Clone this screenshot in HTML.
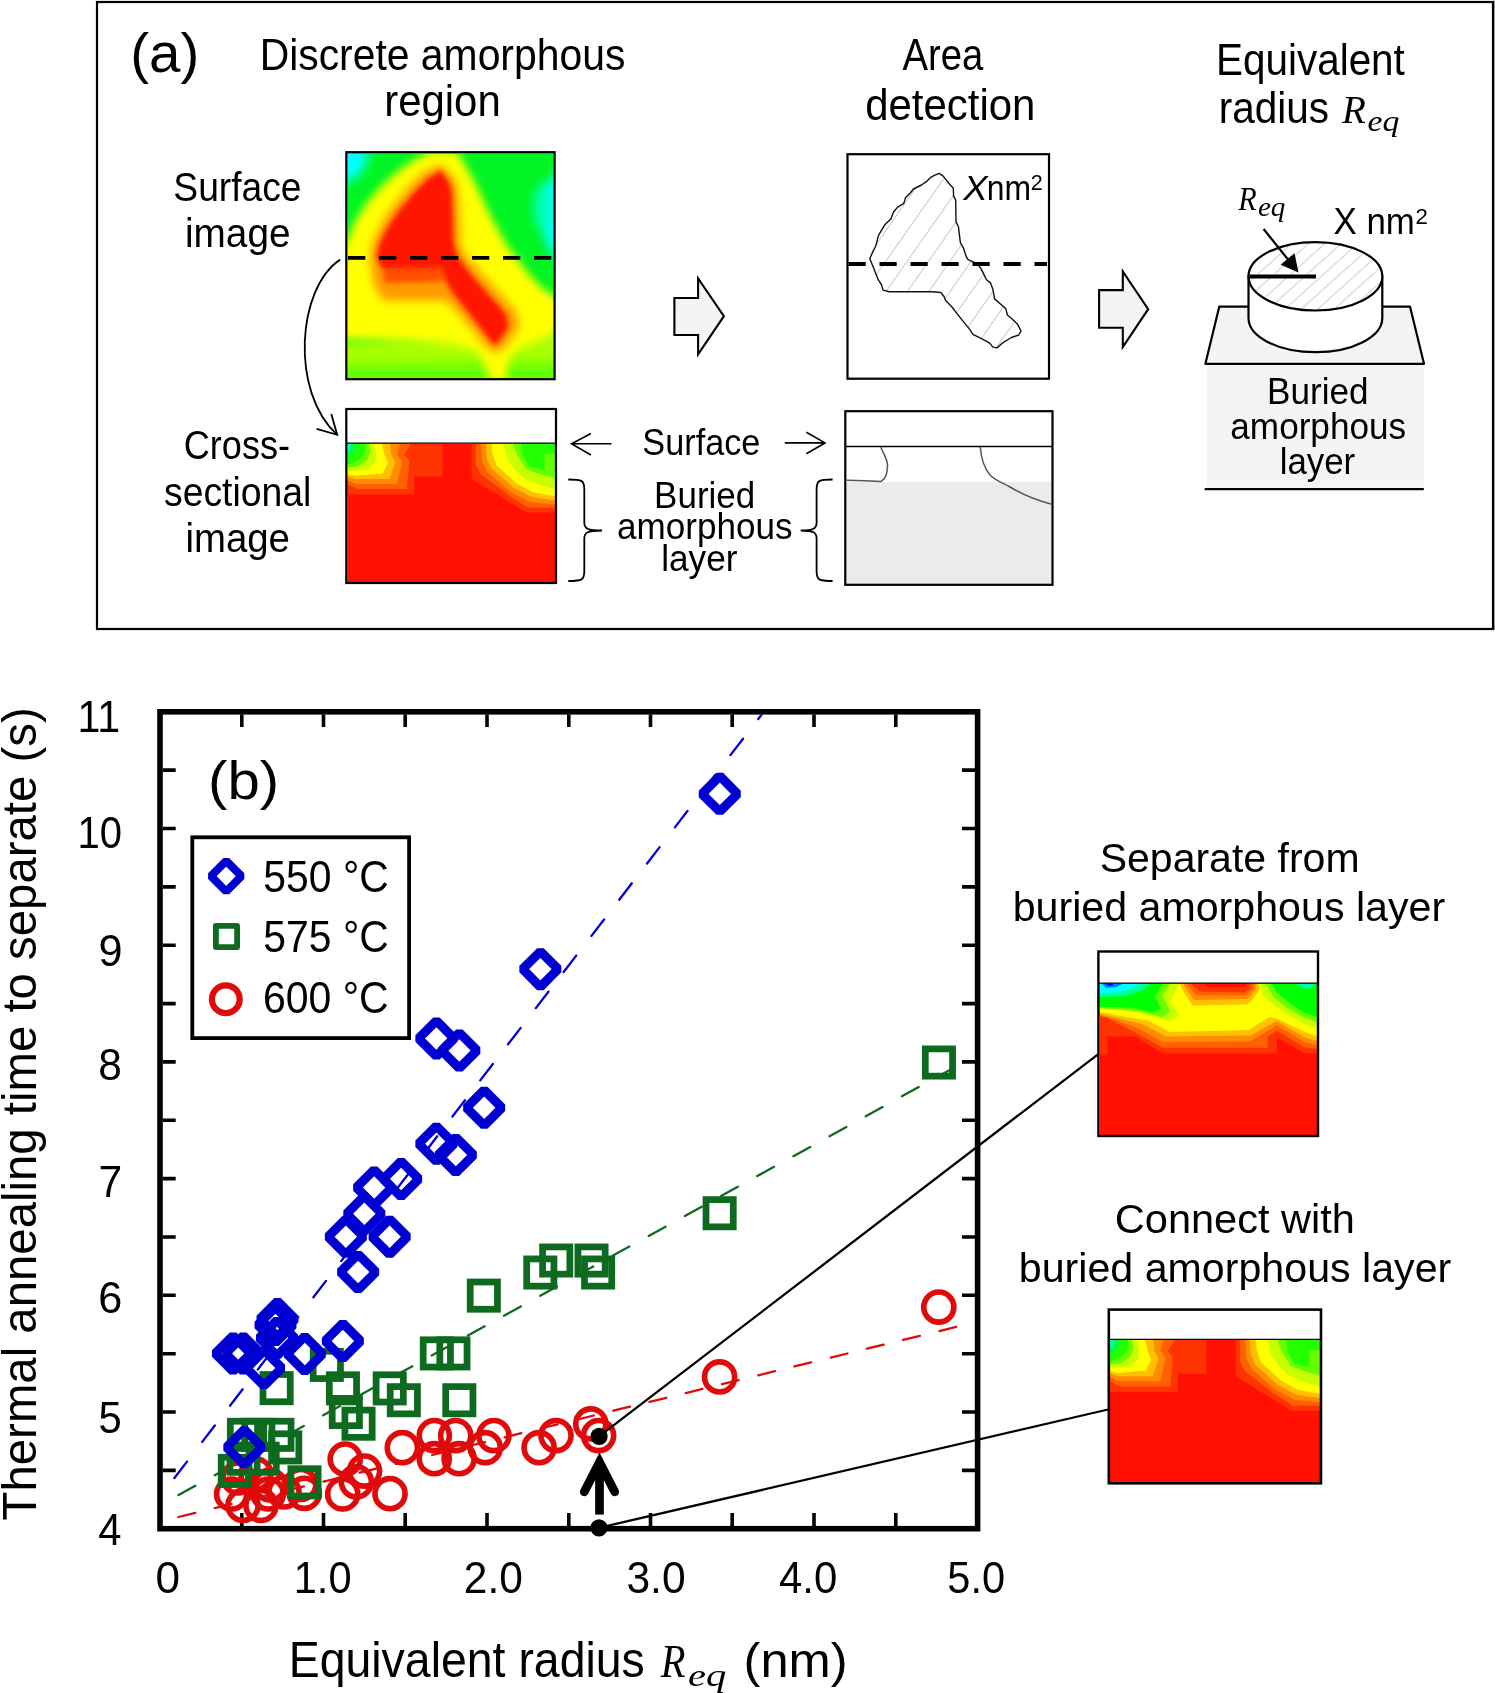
<!DOCTYPE html><html><head><meta charset="utf-8"><style>html,body{margin:0;padding:0;background:#fff;}svg{display:block;} text{-webkit-font-smoothing:antialiased;}</style></head><body>
<svg width="1495" height="1693" viewBox="0 0 1495 1693">
<rect x="0" y="0" width="1495" height="1693" fill="#fff"/>
<rect x="97" y="2" width="1396" height="627" fill="none" stroke="#000" stroke-width="2.2"/>
<line x1="1494.6" y1="0" x2="1494.6" y2="630" stroke="#777" stroke-width="0.8"/>
<defs><clipPath id="clipS"><rect x="347.3" y="153.2" width="206.3" height="224.8"/></clipPath><filter id="blurS" x="-30%" y="-30%" width="160%" height="160%"><feGaussianBlur stdDeviation="5.5"/></filter><filter id="blurS1" x="-30%" y="-30%" width="160%" height="160%"><feGaussianBlur stdDeviation="4"/></filter><filter id="blurS2" x="-30%" y="-30%" width="160%" height="160%"><feGaussianBlur stdDeviation="2.6"/></filter></defs>
<g clip-path="url(#clipS)">
<rect x="340" y="145" width="220" height="240" fill="#00f522"/>
<g filter="url(#blurS)">
<ellipse cx="344.4" cy="149.6" rx="24.1" ry="32.1" fill="#00ffff"/>
<ellipse cx="559.6" cy="215.5" rx="17.7" ry="41.7" fill="#00ffff"/>
<ellipse cx="543.5" cy="207.4" rx="9.6" ry="24.1" fill="#00ffc0"/>
<polygon points="330.0,342.3 570.8,329.4 570.8,396.9 330.0,396.9" fill="#a8ff00" />
<polygon points="330.0,364.8 570.8,361.5 570.8,396.9 330.0,396.9" fill="#60ff00" />
</g>
<g filter="url(#blurS1)">
<polygon points="339.6,244.4 346.1,242.7 354.1,223.5 363.7,207.4 375.0,193.0 387.8,180.1 402.2,168.1 416.7,158.5 429.5,151.2 456.8,151.2 466.5,167.3 474.5,181.7 484.1,202.6 493.8,221.9 506.6,244.4 519.4,262.0 532.3,278.1 543.5,289.3 564.4,302.1 564.4,331.0 538.7,340.7 522.6,347.1 511.4,353.5 508.2,364.8 505.0,384.0 492.1,384.0 484.1,364.8 479.3,351.9 458.4,345.5 426.3,342.3 394.2,340.7 339.6,339.1" fill="#ffff00" />
</g>
<g filter="url(#blurS1)">
<polygon points="440.8,164.1 455.2,178.5 458.4,193.0 460.0,217.1 460.8,242.7 463.2,252.4 477.7,268.4 490.5,282.9 503.4,297.3 516.2,311.8 519.4,326.2 506.6,345.5 497.0,353.5 485.7,347.1 472.9,331.0 458.4,313.4 445.6,300.5 383.0,300.5 373.3,284.5 370.1,255.6 373.3,239.5 381.4,223.5 392.6,205.8 407.1,188.2 423.1,172.1" fill="#ff9a00" />
</g>
<g filter="url(#blurS2)">
<polygon points="440.8,170.5 448.8,181.7 452.0,193.0 452.8,217.1 453.6,242.7 456.8,255.6 471.3,274.9 484.1,289.3 497.0,303.8 506.6,315.0 508.2,327.8 500.2,339.1 495.4,345.5 488.9,339.1 479.3,326.2 466.5,310.2 453.6,294.1 445.6,281.3 442.4,271.6 407.1,271.6 384.6,270.0 379.8,265.2 376.6,255.6 379.8,242.7 387.8,226.7 399.0,210.6 413.5,193.0 427.9,178.5" fill="#ff1400" />
<polygon points="383.0,268.4 442.4,268.4 444.0,281.3 384.6,282.9" fill="#ff5000" />
</g>
</g>
<rect x="346.3" y="152.2" width="208.3" height="227" fill="none" stroke="#000" stroke-width="2.2"/>
<line x1="348" y1="257.8" x2="553" y2="257.8" stroke="#000" stroke-width="3.8" stroke-dasharray="17.3 13.7"/>
<path d="M340.2,259.4 C297,288 290,392 337.2,434.8" fill="none" stroke="#000" stroke-width="1.8"/>
<polyline points="331.3,414.1 337.2,434.8 316.6,428.9" fill="none" stroke="#000" stroke-width="1.8"/>
<defs><clipPath id="clipC1"><rect x="347.2" y="443.6" width="207.9" height="138.9"/></clipPath></defs>
<g clip-path="url(#clipC1)">
<rect x="347.2" y="443.6" width="207.9" height="138.9" fill="#ff1000"/>
<polygon points="347.2,443.6 442.6,443.6 442.6,476.6 414.4,476.6 414.4,494.6 347.2,494.6" fill="#ff3300"/>
<polygon points="471.6,443.6 555.1,443.6 555.1,512.6 526.4,512.6 508.1,501.2 471.6,479.1" fill="#ff3300"/>
<polygon points="347.2,443.6 411.1,443.6 404.4,454.6 409.4,460.3 406.9,488.9 357.2,488.9 347.2,484.0" fill="#ff6000"/>
<polygon points="475.8,443.6 555.1,443.6 555.1,507.7 528.1,507.7 509.0,495.5 480.8,474.2 475.8,464.4" fill="#ff6000"/>
<polygon points="347.2,443.6 400.3,443.6 397.0,453.7 402.0,461.9 397.0,484.0 356.3,484.0 347.2,479.9" fill="#ff8c00"/>
<polygon points="480.8,443.6 555.1,443.6 555.1,504.5 529.7,502.0 509.8,491.4 487.4,471.7 482.4,461.9" fill="#ff8c00"/>
<polygon points="347.2,443.6 390.3,443.6 391.2,454.6 395.3,461.9 389.5,479.1 355.5,479.1 347.2,476.6" fill="#ffc000"/>
<polygon points="485.7,443.6 555.1,443.6 555.1,500.4 531.4,497.1 513.1,487.3 491.6,468.5 486.6,458.7" fill="#ffc000"/>
<polygon points="347.2,443.6 382.0,443.6 384.5,454.6 387.9,462.7 382.9,473.4 354.7,475.8 347.2,474.2" fill="#ffff00"/>
<polygon points="491.6,443.6 555.1,443.6 555.1,496.3 533.0,492.2 516.4,483.2 496.5,465.2 492.4,453.7" fill="#ffff00"/>
<polygon points="347.2,443.6 373.7,443.6 376.2,453.7 375.4,461.9 367.1,470.1 347.2,470.9" fill="#c8ff00"/>
<polygon points="503.2,443.6 555.1,443.6 555.1,488.9 536.4,484.0 521.4,476.6 507.3,460.3" fill="#c8ff00"/>
<polygon points="347.2,443.6 368.8,443.6 370.8,451.3 367.1,460.3 357.2,466.8 347.2,467.6" fill="#66ff00"/>
<polygon points="513.1,443.6 555.1,443.6 555.1,478.3 539.7,474.2 526.4,469.3 516.4,453.7" fill="#66ff00"/>
<polygon points="347.2,443.6 364.6,443.6 365.5,450.5 360.5,458.7 352.2,463.6 347.2,464.4" fill="#22ff00"/>
<polygon points="521.4,443.6 555.1,443.6 555.1,453.7 544.6,453.7 544.6,470.1 529.7,466.8 523.1,455.4" fill="#22ff00"/>
<polygon points="347.2,443.6 355.5,443.6 356.3,448.8 352.2,454.6 347.2,456.2" fill="#00ff44"/>
<polygon points="347.2,443.6 350.5,443.6 350.5,448.8 347.2,450.5" fill="#00ffcc"/>
</g>
<rect x="346.3" y="409" width="209.7" height="174" fill="none" stroke="#000" stroke-width="2.2"/>
<line x1="346" y1="443.2" x2="556" y2="443.2" stroke="#000" stroke-width="1.2"/>
<polygon points="674.4,298 698.1,298 698.1,278.4 723.9,316.2 698.1,354.3 698.1,335 674.4,335" fill="#f4f4f4" stroke="#000" stroke-width="2.1"/>
<polygon points="1099.1,290.1 1122.8,290.1 1122.8,271.4 1148.2,309.2 1122.8,347 1122.8,327.7 1099.1,327.7" fill="#f4f4f4" stroke="#000" stroke-width="2.1"/>
<defs><pattern id="hatch" patternUnits="userSpaceOnUse" width="17.5" height="17.5" patternTransform="rotate(35)"><line x1="0" y1="0" x2="0" y2="17.5" stroke="#8a8a8a" stroke-width="0.9"/></pattern><pattern id="hatch2" patternUnits="userSpaceOnUse" width="11" height="11" patternTransform="rotate(48)"><line x1="0" y1="0" x2="0" y2="11" stroke="#8a8a8a" stroke-width="0.8"/></pattern></defs>
<polygon points="939.2,173.4 943.2,176.1 948.8,183.3 953.3,188.2 953.6,196.2 955.7,200.2 956.0,221.9 958.4,226.7 960.4,242.7 963.2,247.6 966.5,257.2 968.1,259.6 976.9,263.6 980.9,268.4 984.1,274.9 986.5,279.7 990.5,282.9 992.9,289.3 994.6,298.9 1000.2,303.8 1005.8,308.6 1007.4,315.0 1013.0,319.8 1017.8,324.6 1021.0,331.0 1018.6,335.1 1011.4,337.5 1003.4,342.3 997.0,347.9 992.9,347.1 989.7,343.1 982.5,339.1 972.9,334.3 969.7,329.4 963.2,321.4 956.8,313.4 952.0,307.0 945.6,300.5 944.0,296.5 940.8,292.5 932.7,291.7 889.4,291.7 883.0,290.1 881.4,284.5 878.2,279.7 875.0,271.6 872.5,265.2 869.8,258.8 872.5,252.4 875.8,246.0 878.2,236.3 879.8,233.1 884.6,225.1 891.0,218.7 893.4,212.2 897.4,207.4 903.8,203.4 905.5,197.8 910.3,193.0 913.5,189.0 921.5,185.0 926.3,181.7 930.3,177.7 934.4,175.3" fill="url(#hatch)" stroke="#111" stroke-width="1.4" stroke-linejoin="round"/>
<rect x="847.5" y="154.2" width="201.5" height="224.5" fill="none" stroke="#000" stroke-width="2.2"/>
<line x1="848.5" y1="264" x2="1047" y2="264" stroke="#000" stroke-width="3.8" stroke-dasharray="17.2 13.8"/>
<rect x="846.6" y="482" width="204.6" height="102" fill="#ebebeb"/>
<rect x="845.3" y="411.2" width="207.2" height="173.6" fill="none" stroke="#000" stroke-width="2.2"/>
<line x1="845" y1="446.5" x2="1052" y2="446.5" stroke="#000" stroke-width="1.3"/>
<path d="M880.7,447 C884,455 888,460 887.5,466 C887,472 887,478 881,481.5 C872,481 858,480.5 846.6,480.3" fill="none" stroke="#555" stroke-width="1.5"/>
<path d="M980.3,447 C981,456 984,468 990,475 C996,481 1003,483 1010,487 C1020,493 1035,500 1051,504" fill="none" stroke="#555" stroke-width="1.5"/>
<path d="M568.3,479.5 C582.3,479.5 584.3,480.5 584.3,489.5 L584.3,522.5 C584.3,528.5 587.3,530.5 602.0,530.5 M584.3,538.5 C584.3,532.5 587.3,530.5 602.0,530.5 M584.3,538.5 L584.3,571 C584.3,580 582.3,581 568.3,581" fill="none" stroke="#000" stroke-width="1.8"/>
<path d="M832.6,479.5 C818.6,479.5 816.6,480.5 816.6,489.5 L816.6,522.5 C816.6,528.5 813.6,530.5 800.7,530.5 M816.6,538.5 C816.6,532.5 813.6,530.5 800.7,530.5 M816.6,538.5 L816.6,571 C816.6,580 818.6,581 832.6,581" fill="none" stroke="#000" stroke-width="1.8"/>
<path d="M611.5,443.8 L571.5,443.8 M590.9,433.5 L571.5,443.8 L590.9,455" fill="none" stroke="#000" stroke-width="1.6"/>
<path d="M784.8,442.9 L825,442.9 M806.3,432.2 L825,442.9 L806.3,453.7" fill="none" stroke="#000" stroke-width="1.6"/>
<rect x="1206.7" y="363.8" width="217.3" height="124" fill="#f4f4f4"/>
<line x1="1204.7" y1="489.2" x2="1423.8" y2="489.2" stroke="#000" stroke-width="2.2"/>
<polygon points="1219.3,306.6 1410,306.6 1424,363.8 1205.4,363.8" fill="#f4f4f4" stroke="#000" stroke-width="2.2" stroke-linejoin="round"/>
<path d="M1248.5,276.3 L1248.5,318 A66.9,34.2 0 0 0 1382.3000000000002,318 L1382.3000000000002,276.3 Z" fill="#fff" stroke="#000" stroke-width="2.2"/>
<defs><clipPath id="ellc"><ellipse cx="1315.4" cy="276.3" rx="66.9" ry="34.2"/></clipPath></defs>
<ellipse cx="1315.4" cy="276.3" rx="66.9" ry="34.2" fill="#fff"/>
<rect x="1240" y="235" width="150" height="85" fill="url(#hatch2)" clip-path="url(#ellc)"/>
<ellipse cx="1315.4" cy="276.3" rx="66.9" ry="34.2" fill="none" stroke="#000" stroke-width="2.2"/>
<line x1="1249.4" y1="276.5" x2="1316" y2="276.5" stroke="#000" stroke-width="4.2"/>
<line x1="1263.6" y1="229" x2="1290" y2="262" stroke="#000" stroke-width="2.2"/>
<polygon points="1298.5,272.5 1280.6,264.8 1294.5,253.2" fill="#000"/>
<text opacity="0.999" transform="translate(130.27,72.20) scale(1.0154,1)" font-family='"Liberation Sans", sans-serif' font-size="55.60" fill="#000" >(a)</text>
<text opacity="0.999" transform="translate(259.63,70.40) scale(0.9369,1)" font-family='"Liberation Sans", sans-serif' font-size="43.64" fill="#000" >Discrete amorphous</text>
<text opacity="0.999" transform="translate(384.28,116.10) scale(0.9599,1)" font-family='"Liberation Sans", sans-serif' font-size="43.64" fill="#000" >region</text>
<text opacity="0.999" transform="translate(902.60,69.70) scale(0.8707,1)" font-family='"Liberation Sans", sans-serif' font-size="43.93" fill="#000" >Area</text>
<text opacity="0.999" transform="translate(865.22,119.70) scale(0.9549,1)" font-family='"Liberation Sans", sans-serif' font-size="43.93" fill="#000" >detection</text>
<text opacity="0.999" transform="translate(1216.06,75.00) scale(0.9205,1)" font-family='"Liberation Sans", sans-serif' font-size="43.93" fill="#000" >Equivalent</text>
<text opacity="0.999" transform="translate(1218.77,122.90) scale(0.9227,1)" font-family='"Liberation Sans", sans-serif' font-size="43.93" fill="#000" >radius</text>
<text opacity="0.999" transform="translate(1341.99,122.70) scale(0.9640,1)" font-family='"Liberation Serif", serif' font-style="italic" font-size="40.46" fill="#000" >R</text>
<text opacity="0.999" transform="translate(1367.49,131.00) scale(1.1865,1)" font-family='"Liberation Serif", serif' font-style="italic" font-size="28.42" fill="#000" >eq</text>
<text opacity="0.999" transform="translate(173.32,201.00) scale(0.8981,1)" font-family='"Liberation Sans", sans-serif' font-size="41.45" fill="#000" >Surface</text>
<text opacity="0.999" transform="translate(184.99,247.00) scale(0.9344,1)" font-family='"Liberation Sans", sans-serif' font-size="41.45" fill="#000" >image</text>
<text opacity="0.999" transform="translate(183.80,459.40) scale(0.8857,1)" font-family='"Liberation Sans", sans-serif' font-size="40.73" fill="#000" >Cross-</text>
<text opacity="0.999" transform="translate(163.97,505.80) scale(0.9171,1)" font-family='"Liberation Sans", sans-serif' font-size="40.73" fill="#000" >sectional</text>
<text opacity="0.999" transform="translate(185.51,551.50) scale(0.9417,1)" font-family='"Liberation Sans", sans-serif' font-size="40.73" fill="#000" >image</text>
<text opacity="0.999" transform="translate(642.36,455.20) scale(0.9235,1)" font-family='"Liberation Sans", sans-serif' font-size="37.09" fill="#000" >Surface</text>
<text opacity="0.999" transform="translate(654.11,507.50) scale(0.9356,1)" font-family='"Liberation Sans", sans-serif' font-size="37.38" fill="#000" >Buried</text>
<text opacity="0.999" transform="translate(617.11,539.30) scale(0.9380,1)" font-family='"Liberation Sans", sans-serif' font-size="37.38" fill="#000" >amorphous</text>
<text opacity="0.999" transform="translate(661.22,571.30) scale(0.9417,1)" font-family='"Liberation Sans", sans-serif' font-size="37.38" fill="#000" >layer</text>
<text opacity="0.999" transform="translate(963.24,199.80) scale(1.0589,1)" font-family='"Liberation Sans", sans-serif' font-style="italic" font-size="34.47" fill="#000" >X</text>
<text opacity="0.999" transform="translate(986.85,199.80) scale(0.9246,1)" font-family='"Liberation Sans", sans-serif' font-size="34.47" fill="#000" >nm</text>
<text opacity="0.999" transform="translate(1030.82,189.80) scale(0.9432,1)" font-family='"Liberation Sans", sans-serif' font-size="22.84" fill="#000" >2</text>
<text opacity="0.999" transform="translate(1238.15,209.70) scale(0.9106,1)" font-family='"Liberation Serif", serif' font-style="italic" font-size="33.13" fill="#000" >R</text>
<text opacity="0.999" transform="translate(1257.93,216.10) scale(1.0985,1)" font-family='"Liberation Serif", serif' font-style="italic" font-size="26.52" fill="#000" >eq</text>
<text opacity="0.999" transform="translate(1333.52,234.20) scale(0.9440,1)" font-family='"Liberation Sans", sans-serif' font-size="36.95" fill="#000" >X nm</text>
<text opacity="0.999" transform="translate(1415.49,223.50) scale(0.9720,1)" font-family='"Liberation Sans", sans-serif' font-size="22.84" fill="#000" >2</text>
<text opacity="0.999" transform="translate(1267.10,404.00) scale(0.9286,1)" font-family='"Liberation Sans", sans-serif' font-size="37.82" fill="#000" >Buried</text>
<text opacity="0.999" transform="translate(1230.31,439.00) scale(0.9294,1)" font-family='"Liberation Sans", sans-serif' font-size="37.82" fill="#000" >amorphous</text>
<text opacity="0.999" transform="translate(1279.65,474.00) scale(0.9220,1)" font-family='"Liberation Sans", sans-serif' font-size="37.82" fill="#000" >layer</text>
<path d="M162.7,1470.4H175.7 M975,1470.4H962 M162.7,1412.0H175.7 M975,1412.0H962 M162.7,1353.7H175.7 M975,1353.7H962 M162.7,1295.3H175.7 M975,1295.3H962 M162.7,1237.0H175.7 M975,1237.0H962 M162.7,1178.6H175.7 M975,1178.6H962 M162.7,1120.2H175.7 M975,1120.2H962 M162.7,1061.9H175.7 M975,1061.9H962 M162.7,1003.6H175.7 M975,1003.6H962 M162.7,945.2H175.7 M975,945.2H962 M162.7,886.9H175.7 M975,886.9H962 M162.7,828.5H175.7 M975,828.5H962 M162.7,770.1H175.7 M975,770.1H962 M241.8,1526H241.8V1513 M241.8,714.6V727 M323.5,1526H323.5V1513 M323.5,714.6V727 M405.2,1526H405.2V1513 M405.2,714.6V727 M487.0,1526H487.0V1513 M487.0,714.6V727 M568.8,1526H568.8V1513 M568.8,714.6V727 M650.5,1526H650.5V1513 M650.5,714.6V727 M732.2,1526H732.2V1513 M732.2,714.6V727 M814.0,1526H814.0V1513 M814.0,714.6V727 M895.8,1526H895.8V1513 M895.8,714.6V727" stroke="#000" stroke-width="3.6" fill="none"/>
<defs><clipPath id="plotclip"><rect x="163" y="714.6" width="812" height="811.4"/></clipPath></defs>
<g clip-path="url(#plotclip)" fill="none" stroke-width="2.3">
<line x1="174.4" y1="1478" x2="766" y2="708.9" stroke="#0000d2" stroke-dasharray="20.7 24.9" stroke-linecap="round"/>
<line x1="178.5" y1="1495.1" x2="957.5" y2="1065.7" stroke="#0e6a1e" stroke-dasharray="19.2 22.1" stroke-linecap="round"/>
<line x1="178.5" y1="1517" x2="957.5" y2="1326.6" stroke="#e00a0a" stroke-dasharray="17.2 20.1" stroke-linecap="round"/>
</g>
<circle cx="938.8" cy="1307.1" r="15.05" fill="none" stroke="#e00a0a" stroke-width="5.6"/>
<circle cx="719.6" cy="1376.9" r="15.05" fill="none" stroke="#e00a0a" stroke-width="5.6"/>
<circle cx="590.8" cy="1423.9" r="15.05" fill="none" stroke="#e00a0a" stroke-width="5.6"/>
<circle cx="598.6" cy="1435.6" r="15.05" fill="none" stroke="#e00a0a" stroke-width="5.6"/>
<circle cx="556.0" cy="1435.6" r="15.05" fill="none" stroke="#e00a0a" stroke-width="5.6"/>
<circle cx="539.1" cy="1447.7" r="15.05" fill="none" stroke="#e00a0a" stroke-width="5.6"/>
<circle cx="493.9" cy="1435.6" r="15.05" fill="none" stroke="#e00a0a" stroke-width="5.6"/>
<circle cx="485.2" cy="1447.7" r="15.05" fill="none" stroke="#e00a0a" stroke-width="5.6"/>
<circle cx="455.7" cy="1435.6" r="15.05" fill="none" stroke="#e00a0a" stroke-width="5.6"/>
<circle cx="459.1" cy="1458.7" r="15.05" fill="none" stroke="#e00a0a" stroke-width="5.6"/>
<circle cx="434.3" cy="1435.6" r="15.05" fill="none" stroke="#e00a0a" stroke-width="5.6"/>
<circle cx="434.3" cy="1458.7" r="15.05" fill="none" stroke="#e00a0a" stroke-width="5.6"/>
<circle cx="402.3" cy="1447.7" r="15.05" fill="none" stroke="#e00a0a" stroke-width="5.6"/>
<circle cx="390.0" cy="1493.7" r="15.05" fill="none" stroke="#e00a0a" stroke-width="5.6"/>
<circle cx="345.2" cy="1459.1" r="15.05" fill="none" stroke="#e00a0a" stroke-width="5.6"/>
<circle cx="364.5" cy="1471.1" r="15.05" fill="none" stroke="#e00a0a" stroke-width="5.6"/>
<circle cx="342.7" cy="1494.0" r="15.05" fill="none" stroke="#e00a0a" stroke-width="5.6"/>
<circle cx="356.4" cy="1481.8" r="15.05" fill="none" stroke="#e00a0a" stroke-width="5.6"/>
<circle cx="231.6" cy="1494.0" r="15.05" fill="none" stroke="#e00a0a" stroke-width="5.6"/>
<circle cx="243.0" cy="1505.4" r="15.05" fill="none" stroke="#e00a0a" stroke-width="5.6"/>
<circle cx="261.0" cy="1505.4" r="15.05" fill="none" stroke="#e00a0a" stroke-width="5.6"/>
<circle cx="270.0" cy="1485.0" r="15.05" fill="none" stroke="#e00a0a" stroke-width="5.6"/>
<circle cx="284.0" cy="1492.0" r="15.05" fill="none" stroke="#e00a0a" stroke-width="5.6"/>
<circle cx="304.3" cy="1493.3" r="15.05" fill="none" stroke="#e00a0a" stroke-width="5.6"/>
<circle cx="238.0" cy="1478.0" r="15.05" fill="none" stroke="#e00a0a" stroke-width="5.6"/>
<circle cx="256.0" cy="1474.0" r="15.05" fill="none" stroke="#e00a0a" stroke-width="5.6"/>
<circle cx="268.3" cy="1494.0" r="15.05" fill="none" stroke="#e00a0a" stroke-width="5.6"/>
<circle cx="300.7" cy="1484.4" r="15.05" fill="none" stroke="#e00a0a" stroke-width="5.6"/>
<rect x="925.3" y="1048.9" width="27.25" height="27.25" fill="none" stroke="#0e6a1e" stroke-width="6.75" stroke-linejoin="miter"/>
<rect x="706.0" y="1199.6" width="27.25" height="27.25" fill="none" stroke="#0e6a1e" stroke-width="6.75" stroke-linejoin="miter"/>
<rect x="470.2" y="1282.0" width="27.25" height="27.25" fill="none" stroke="#0e6a1e" stroke-width="6.75" stroke-linejoin="miter"/>
<rect x="526.7" y="1258.9" width="27.25" height="27.25" fill="none" stroke="#0e6a1e" stroke-width="6.75" stroke-linejoin="miter"/>
<rect x="542.6" y="1246.9" width="27.25" height="27.25" fill="none" stroke="#0e6a1e" stroke-width="6.75" stroke-linejoin="miter"/>
<rect x="577.9" y="1246.9" width="27.25" height="27.25" fill="none" stroke="#0e6a1e" stroke-width="6.75" stroke-linejoin="miter"/>
<rect x="584.5" y="1258.9" width="27.25" height="27.25" fill="none" stroke="#0e6a1e" stroke-width="6.75" stroke-linejoin="miter"/>
<rect x="423.2" y="1339.8" width="27.25" height="27.25" fill="none" stroke="#0e6a1e" stroke-width="6.75" stroke-linejoin="miter"/>
<rect x="439.8" y="1339.8" width="27.25" height="27.25" fill="none" stroke="#0e6a1e" stroke-width="6.75" stroke-linejoin="miter"/>
<rect x="445.7" y="1386.6" width="27.25" height="27.25" fill="none" stroke="#0e6a1e" stroke-width="6.75" stroke-linejoin="miter"/>
<rect x="390.2" y="1386.6" width="27.25" height="27.25" fill="none" stroke="#0e6a1e" stroke-width="6.75" stroke-linejoin="miter"/>
<rect x="376.1" y="1374.8" width="27.25" height="27.25" fill="none" stroke="#0e6a1e" stroke-width="6.75" stroke-linejoin="miter"/>
<rect x="344.9" y="1410.1" width="27.25" height="27.25" fill="none" stroke="#0e6a1e" stroke-width="6.75" stroke-linejoin="miter"/>
<rect x="332.2" y="1398.4" width="27.25" height="27.25" fill="none" stroke="#0e6a1e" stroke-width="6.75" stroke-linejoin="miter"/>
<rect x="329.3" y="1374.7" width="27.25" height="27.25" fill="none" stroke="#0e6a1e" stroke-width="6.75" stroke-linejoin="miter"/>
<rect x="313.2" y="1351.3" width="27.25" height="27.25" fill="none" stroke="#0e6a1e" stroke-width="6.75" stroke-linejoin="miter"/>
<rect x="263.0" y="1374.5" width="27.25" height="27.25" fill="none" stroke="#0e6a1e" stroke-width="6.75" stroke-linejoin="miter"/>
<rect x="230.3" y="1421.2" width="27.25" height="27.25" fill="none" stroke="#0e6a1e" stroke-width="6.75" stroke-linejoin="miter"/>
<rect x="244.7" y="1421.2" width="27.25" height="27.25" fill="none" stroke="#0e6a1e" stroke-width="6.75" stroke-linejoin="miter"/>
<rect x="263.8" y="1421.2" width="27.25" height="27.25" fill="none" stroke="#0e6a1e" stroke-width="6.75" stroke-linejoin="miter"/>
<rect x="271.6" y="1433.8" width="27.25" height="27.25" fill="none" stroke="#0e6a1e" stroke-width="6.75" stroke-linejoin="miter"/>
<rect x="229.9" y="1445.1" width="27.25" height="27.25" fill="none" stroke="#0e6a1e" stroke-width="6.75" stroke-linejoin="miter"/>
<rect x="249.0" y="1445.1" width="27.25" height="27.25" fill="none" stroke="#0e6a1e" stroke-width="6.75" stroke-linejoin="miter"/>
<rect x="221.2" y="1457.3" width="27.25" height="27.25" fill="none" stroke="#0e6a1e" stroke-width="6.75" stroke-linejoin="miter"/>
<rect x="290.9" y="1468.7" width="27.25" height="27.25" fill="none" stroke="#0e6a1e" stroke-width="6.75" stroke-linejoin="miter"/>
<polygon points="719.8,776.1 737.5,793.9 719.8,811.6 702.0,793.9" fill="none" stroke="#0000d2" stroke-width="9.2" stroke-linejoin="bevel"/>
<polygon points="540.4,951.4 558.1,969.1 540.4,986.9 522.6,969.1" fill="none" stroke="#0000d2" stroke-width="9.2" stroke-linejoin="bevel"/>
<polygon points="436.4,1020.8 454.1,1038.5 436.4,1056.2 418.6,1038.5" fill="none" stroke="#0000d2" stroke-width="9.2" stroke-linejoin="bevel"/>
<polygon points="459.3,1032.7 477.1,1050.4 459.3,1068.2 441.6,1050.4" fill="none" stroke="#0000d2" stroke-width="9.2" stroke-linejoin="bevel"/>
<polygon points="484.2,1090.0 501.9,1107.8 484.2,1125.5 466.4,1107.8" fill="none" stroke="#0000d2" stroke-width="9.2" stroke-linejoin="bevel"/>
<polygon points="436.4,1126.0 454.1,1143.7 436.4,1161.5 418.6,1143.7" fill="none" stroke="#0000d2" stroke-width="9.2" stroke-linejoin="bevel"/>
<polygon points="455.8,1137.2 473.6,1154.9 455.8,1172.7 438.1,1154.9" fill="none" stroke="#0000d2" stroke-width="9.2" stroke-linejoin="bevel"/>
<polygon points="401.1,1161.3 418.9,1179.1 401.1,1196.8 383.4,1179.1" fill="none" stroke="#0000d2" stroke-width="9.2" stroke-linejoin="bevel"/>
<polygon points="374.2,1169.8 391.9,1187.6 374.2,1205.3 356.4,1187.6" fill="none" stroke="#0000d2" stroke-width="9.2" stroke-linejoin="bevel"/>
<polygon points="364.3,1196.0 382.1,1213.7 364.3,1231.5 346.6,1213.7" fill="none" stroke="#0000d2" stroke-width="9.2" stroke-linejoin="bevel"/>
<polygon points="345.8,1219.0 363.6,1236.7 345.8,1254.5 328.1,1236.7" fill="none" stroke="#0000d2" stroke-width="9.2" stroke-linejoin="bevel"/>
<polygon points="389.6,1219.0 407.4,1236.7 389.6,1254.5 371.9,1236.7" fill="none" stroke="#0000d2" stroke-width="9.2" stroke-linejoin="bevel"/>
<polygon points="358.1,1254.2 375.9,1272.0 358.1,1289.8 340.4,1272.0" fill="none" stroke="#0000d2" stroke-width="9.2" stroke-linejoin="bevel"/>
<polygon points="342.8,1323.3 360.6,1341.1 342.8,1358.8 325.1,1341.1" fill="none" stroke="#0000d2" stroke-width="9.2" stroke-linejoin="bevel"/>
<polygon points="304.8,1336.2 322.6,1354.0 304.8,1371.8 287.1,1354.0" fill="none" stroke="#0000d2" stroke-width="9.2" stroke-linejoin="bevel"/>
<polygon points="277.5,1301.2 295.2,1319.0 277.5,1336.8 259.8,1319.0" fill="none" stroke="#0000d2" stroke-width="9.2" stroke-linejoin="bevel"/>
<polygon points="275.5,1307.2 293.2,1325.0 275.5,1342.8 257.8,1325.0" fill="none" stroke="#0000d2" stroke-width="9.2" stroke-linejoin="bevel"/>
<polygon points="277.0,1320.2 294.8,1338.0 277.0,1355.8 259.2,1338.0" fill="none" stroke="#0000d2" stroke-width="9.2" stroke-linejoin="bevel"/>
<polygon points="233.0,1335.8 250.8,1353.6 233.0,1371.3 215.2,1353.6" fill="none" stroke="#0000d2" stroke-width="9.2" stroke-linejoin="bevel"/>
<polygon points="243.3,1335.8 261.1,1353.6 243.3,1371.3 225.6,1353.6" fill="none" stroke="#0000d2" stroke-width="9.2" stroke-linejoin="bevel"/>
<polygon points="264.0,1350.2 281.8,1368.0 264.0,1385.8 246.2,1368.0" fill="none" stroke="#0000d2" stroke-width="9.2" stroke-linejoin="bevel"/>
<polygon points="244.3,1429.5 262.1,1447.2 244.3,1465.0 226.6,1447.2" fill="none" stroke="#0000d2" stroke-width="9.2" stroke-linejoin="bevel"/>
<rect x="160" y="711.8" width="817.6" height="816.9" fill="none" stroke="#000" stroke-width="5.6"/>
<rect x="192.3" y="837.3" width="216.8" height="200.8" fill="#fff" stroke="#000" stroke-width="3.8"/>
<polygon points="226.2,860.9 241.5,876.2 226.2,891.5 210.9,876.2" fill="none" stroke="#0000d2" stroke-width="8.0" stroke-linejoin="bevel"/>
<rect x="215.9" y="925.9" width="21.2" height="21.2" fill="none" stroke="#0e6a1e" stroke-width="5.8" stroke-linejoin="round"/>
<circle cx="225.8" cy="999.2" r="13.85" fill="none" stroke="#e00a0a" stroke-width="6.2"/>
<text opacity="0.999" transform="translate(263.37,892.30) scale(0.9184,1)" font-family='"Liberation Sans", sans-serif' font-size="44.50" fill="#000" >550 °C</text>
<text opacity="0.999" transform="translate(263.37,952.30) scale(0.9184,1)" font-family='"Liberation Sans", sans-serif' font-size="44.50" fill="#000" >575 °C</text>
<text opacity="0.999" transform="translate(262.95,1013.00) scale(0.9215,1)" font-family='"Liberation Sans", sans-serif' font-size="44.50" fill="#000" >600 °C</text>
<text opacity="0.999" transform="translate(208.06,798.90) scale(1.0676,1)" font-family='"Liberation Sans", sans-serif' font-size="54.50" fill="#000" >(b)</text>
<text opacity="0.999" transform="translate(77.51,732.00) scale(0.9472,1)" font-family='"Liberation Sans", sans-serif' font-size="43.50" fill="#000" >11</text>
<text opacity="0.999" transform="translate(77.60,847.60) scale(0.9195,1)" font-family='"Liberation Sans", sans-serif' font-size="43.50" fill="#000" >10</text>
<text opacity="0.999" transform="translate(98.45,966.20) scale(0.9941,1)" font-family='"Liberation Sans", sans-serif' font-size="43.50" fill="#000" >9</text>
<text opacity="0.999" transform="translate(98.29,1079.80) scale(0.9782,1)" font-family='"Liberation Sans", sans-serif' font-size="43.50" fill="#000" >8</text>
<text opacity="0.999" transform="translate(98.57,1197.40) scale(0.9802,1)" font-family='"Liberation Sans", sans-serif' font-size="43.50" fill="#000" >7</text>
<text opacity="0.999" transform="translate(98.14,1313.40) scale(0.9941,1)" font-family='"Liberation Sans", sans-serif' font-size="43.50" fill="#000" >6</text>
<text opacity="0.999" transform="translate(98.62,1432.50) scale(0.9631,1)" font-family='"Liberation Sans", sans-serif' font-size="43.50" fill="#000" >5</text>
<text opacity="0.999" transform="translate(98.16,1545.00) scale(0.9605,1)" font-family='"Liberation Sans", sans-serif' font-size="43.50" fill="#000" >4</text>
<text opacity="0.999" transform="translate(155.53,1592.80) scale(1.0158,1)" font-family='"Liberation Sans", sans-serif' font-size="43.50" fill="#000" >0</text>
<text opacity="0.999" transform="translate(293.68,1592.80) scale(0.9573,1)" font-family='"Liberation Sans", sans-serif' font-size="43.50" fill="#000" >1.0</text>
<text opacity="0.999" transform="translate(463.78,1592.80) scale(0.9760,1)" font-family='"Liberation Sans", sans-serif' font-size="43.50" fill="#000" >2.0</text>
<text opacity="0.999" transform="translate(626.40,1592.80) scale(0.9790,1)" font-family='"Liberation Sans", sans-serif' font-size="43.50" fill="#000" >3.0</text>
<text opacity="0.999" transform="translate(779.06,1592.80) scale(0.9628,1)" font-family='"Liberation Sans", sans-serif' font-size="43.50" fill="#000" >4.0</text>
<text opacity="0.999" transform="translate(947.34,1592.80) scale(0.9546,1)" font-family='"Liberation Sans", sans-serif' font-size="43.50" fill="#000" >5.0</text>
<text opacity="0.999" transform="translate(36,1520.47) rotate(-90) scale(0.9665,1)" font-family='"Liberation Sans", sans-serif' font-size="49.0">Thermal annealing time to separate (s)</text>
<text opacity="0.999" transform="translate(288.67,1676.70) scale(0.9229,1)" font-family='"Liberation Sans", sans-serif' font-size="50.33" fill="#000" >Equivalent radius</text>
<text opacity="0.999" transform="translate(660.80,1676.70) scale(0.8784,1)" font-family='"Liberation Serif", serif' font-style="italic" font-size="46.11" fill="#000" >R</text>
<text opacity="0.999" transform="translate(688.09,1685.50) scale(1.2961,1)" font-family='"Liberation Serif", serif' font-style="italic" font-size="31.21" fill="#000" >eq</text>
<text opacity="0.999" transform="translate(743.53,1676.70) scale(1.0510,1)" font-family='"Liberation Sans", sans-serif' font-size="48.20" fill="#000" >(nm)</text>
<text opacity="0.999" transform="translate(1099.65,871.50) scale(1.0183,1)" font-family='"Liberation Sans", sans-serif' font-size="40.29" fill="#000" >Separate from</text>
<text opacity="0.999" transform="translate(1012.72,920.80) scale(1.0218,1)" font-family='"Liberation Sans", sans-serif' font-size="40.29" fill="#000" >buried amorphous layer</text>
<text opacity="0.999" transform="translate(1114.82,1233.10) scale(1.0090,1)" font-family='"Liberation Sans", sans-serif' font-size="41.16" fill="#000" >Connect with</text>
<text opacity="0.999" transform="translate(1018.82,1282.30) scale(1.0004,1)" font-family='"Liberation Sans", sans-serif' font-size="41.16" fill="#000" >buried amorphous layer</text>
<defs><clipPath id="clipSep"><rect x="1099.6" y="983.6" width="217.6" height="151.6"/></clipPath></defs>
<g clip-path="url(#clipSep)">
<rect x="1099.6" y="983.6" width="217.6" height="151.6" fill="#ff1000"/>
<polygon points="1099.6,983.6 1317.2,983.6 1317.2,1053.5 1305.0,1053.5 1276.9,1037.5 1276.9,1053.5 1162.6,1053.5 1135.4,1036.6 1107.3,1036.6 1107.3,1054.4 1099.6,1054.4" fill="#ff3300"/>
<polygon points="1099.6,983.6 1317.2,983.6 1317.2,1048.8 1305.0,1047.8 1276.9,1030.9 1267.5,1036.6 1267.5,1047.8 1162.6,1047.8 1135.4,1032.8 1112.0,1020.6 1106.3,1017.2 1099.6,1016.5" fill="#ff6000"/>
<polygon points="1099.6,983.6 1317.2,983.6 1317.2,1045.0 1305.0,1042.2 1276.9,1025.3 1260.0,1035.6 1250.7,1041.3 1162.6,1042.2 1140.1,1029.6 1112.0,1018.7 1099.6,1015.3" fill="#ff8c00"/>
<polygon points="1099.6,983.6 1317.2,983.6 1317.2,1041.3 1305.0,1037.5 1276.9,1021.0 1250.7,1035.6 1166.3,1036.6 1143.8,1024.7 1113.8,1016.9 1099.6,1014.0" fill="#ffc000"/>
<polygon points="1099.6,983.6 1317.2,983.6 1317.2,1036.6 1305.0,1031.9 1276.9,1018.7 1269.4,1016.9 1248.8,1030.0 1170.1,1031.9 1147.6,1020.6 1115.7,1015.0 1099.6,1012.2" fill="#ffff00"/>
<polygon points="1179.4,983.6 1258.2,983.6 1260.0,989.0 1250.7,1001.8 1246.9,1004.6 1192.6,1005.6 1185.1,994.3" fill="#ffc000"/>
<polygon points="1183.2,983.6 1256.3,983.6 1255.3,989.6 1247.9,999.0 1194.4,999.9 1187.9,991.5" fill="#ff8c00"/>
<polygon points="1186.9,983.6 1254.4,983.6 1252.5,989.6 1246.0,995.2 1196.3,995.2 1190.7,988.7" fill="#ff6000"/>
<polygon points="1190.7,983.6 1251.6,983.6 1249.7,988.3 1245.0,992.4 1200.1,991.5 1193.5,986.8" fill="#ff3300"/>
<polygon points="1203.8,983.6 1246.9,983.6 1245.0,986.8 1209.4,987.7" fill="#ff1000"/>
<polygon points="1099.6,983.6 1179.4,983.6 1170.1,1001.8 1179.4,1015.0 1170.1,1021.5 1147.6,1015.0 1125.1,1009.7 1099.6,1009.0" fill="#c8ff00"/>
<polygon points="1260.0,983.6 1317.2,983.6 1317.2,1028.1 1305.0,1024.4 1284.4,1013.1 1269.4,1001.8 1261.9,994.3" fill="#c8ff00"/>
<polygon points="1099.6,983.6 1170.1,983.6 1162.6,996.2 1170.1,1011.2 1162.6,1017.2 1140.1,1011.6 1099.6,1007.8" fill="#66ff00"/>
<polygon points="1265.7,983.6 1317.2,983.6 1317.2,1022.5 1303.1,1016.9 1286.3,1007.5 1273.2,996.2" fill="#66ff00"/>
<polygon points="1099.6,983.6 1162.6,983.6 1155.1,996.2 1160.7,1009.3 1151.3,1012.2 1132.6,1007.8 1099.6,1006.7" fill="#00ff00"/>
<polygon points="1271.3,983.6 1317.2,983.6 1317.2,1016.9 1301.3,1011.2 1288.1,1001.8 1276.9,992.4" fill="#00ff00"/>
<polygon points="1099.6,983.6 1151.3,983.6 1142.0,990.6 1125.1,996.2 1099.6,997.1" fill="#00ff99"/>
<polygon points="1295.6,983.6 1315.3,983.6 1309.7,989.0 1302.2,988.3" fill="#00ff99"/>
<polygon points="1099.6,983.6 1140.1,983.6 1130.7,989.0 1115.7,992.4 1099.6,993.4" fill="#00ffff"/>
<polygon points="1101.7,983.6 1123.2,983.6 1115.7,987.2 1106.3,987.9" fill="#0080ff"/>
<polygon points="1104.1,983.6 1114.8,983.6 1110.1,986.0" fill="#0000ff"/>
</g>
<rect x="1098.4" y="951.5" width="219.6" height="184.5" fill="none" stroke="#000" stroke-width="2.4"/>
<line x1="1098" y1="983.2" x2="1318" y2="983.2" stroke="#000" stroke-width="1.2"/>
<defs><clipPath id="clipCon"><rect x="1110" y="1339.8" width="210.0" height="142.7"/></clipPath></defs>
<g clip-path="url(#clipCon)">
<rect x="1110" y="1339.8" width="210.0" height="142.7" fill="#ff1000"/>
<polygon points="1110.0,1339.8 1206.4,1339.8 1206.4,1373.8 1177.9,1373.8 1177.9,1392.2 1110.0,1392.2" fill="#ff3300"/>
<polygon points="1235.7,1339.8 1320.0,1339.8 1320.0,1410.7 1291.0,1410.7 1272.6,1399.0 1235.7,1376.3" fill="#ff3300"/>
<polygon points="1110.0,1339.8 1174.5,1339.8 1167.8,1351.1 1172.8,1356.9 1170.3,1386.4 1120.1,1386.4 1110.0,1381.3" fill="#ff6000"/>
<polygon points="1239.9,1339.8 1320.0,1339.8 1320.0,1405.7 1292.7,1405.7 1273.4,1393.1 1244.9,1371.2 1239.9,1361.1" fill="#ff6000"/>
<polygon points="1110.0,1339.8 1163.6,1339.8 1160.3,1350.2 1165.3,1358.6 1160.3,1381.3 1119.2,1381.3 1110.0,1377.1" fill="#ff8c00"/>
<polygon points="1244.9,1339.8 1320.0,1339.8 1320.0,1402.3 1294.4,1399.8 1274.2,1388.9 1251.6,1368.7 1246.6,1358.6" fill="#ff8c00"/>
<polygon points="1110.0,1339.8 1153.6,1339.8 1154.4,1351.1 1158.6,1358.6 1152.7,1376.3 1118.4,1376.3 1110.0,1373.8" fill="#ffc000"/>
<polygon points="1249.9,1339.8 1320.0,1339.8 1320.0,1398.1 1296.0,1394.8 1277.6,1384.7 1255.8,1365.3 1250.8,1355.3" fill="#ffc000"/>
<polygon points="1110.0,1339.8 1145.2,1339.8 1147.7,1351.1 1151.1,1359.5 1146.0,1370.4 1117.5,1372.9 1110.0,1371.2" fill="#ffff00"/>
<polygon points="1255.8,1339.8 1320.0,1339.8 1320.0,1393.9 1297.7,1389.7 1280.9,1380.5 1260.8,1362.0 1256.6,1350.2" fill="#ffff00"/>
<polygon points="1110.0,1339.8 1136.8,1339.8 1139.3,1350.2 1138.5,1358.6 1130.1,1367.0 1110.0,1367.9" fill="#c8ff00"/>
<polygon points="1267.5,1339.8 1320.0,1339.8 1320.0,1386.4 1301.1,1381.3 1286.0,1373.8 1271.7,1356.9" fill="#c8ff00"/>
<polygon points="1110.0,1339.8 1131.8,1339.8 1133.8,1347.7 1130.1,1356.9 1120.1,1363.7 1110.0,1364.5" fill="#66ff00"/>
<polygon points="1277.6,1339.8 1320.0,1339.8 1320.0,1375.4 1304.4,1371.2 1291.0,1366.2 1280.9,1350.2" fill="#66ff00"/>
<polygon points="1110.0,1339.8 1127.6,1339.8 1128.4,1346.9 1123.4,1355.3 1115.0,1360.3 1110.0,1361.1" fill="#22ff00"/>
<polygon points="1286.0,1339.8 1320.0,1339.8 1320.0,1350.2 1309.4,1350.2 1309.4,1367.0 1294.4,1363.7 1287.7,1351.9" fill="#22ff00"/>
<polygon points="1110.0,1339.8 1118.4,1339.8 1119.2,1345.2 1115.0,1351.1 1110.0,1352.7" fill="#00ff44"/>
<polygon points="1110.0,1339.8 1113.4,1339.8 1113.4,1345.2 1110.0,1346.9" fill="#00ffcc"/>
</g>
<rect x="1108.8" y="1309.6" width="212.2" height="173.7" fill="none" stroke="#000" stroke-width="2.6"/>
<line x1="1108" y1="1339.3" x2="1321" y2="1339.3" stroke="#000" stroke-width="1.2"/>
<line x1="599.1" y1="1436.4" x2="1098" y2="1054.3" stroke="#000" stroke-width="2.3"/>
<line x1="599" y1="1527.8" x2="1108" y2="1409.5" stroke="#000" stroke-width="2.3"/>
<circle cx="599.1" cy="1436.4" r="8.6" fill="#000"/>
<circle cx="599" cy="1527.8" r="8.6" fill="#000"/>
<path d="M599.5,1514.6 V1464" stroke="#000" stroke-width="8.7" fill="none"/>
<path d="M584.3,1491.8 L599.5,1462 L614.7,1491.8" stroke="#000" stroke-width="8.7" fill="none" stroke-linecap="round" stroke-linejoin="miter"/>
</svg></body></html>
